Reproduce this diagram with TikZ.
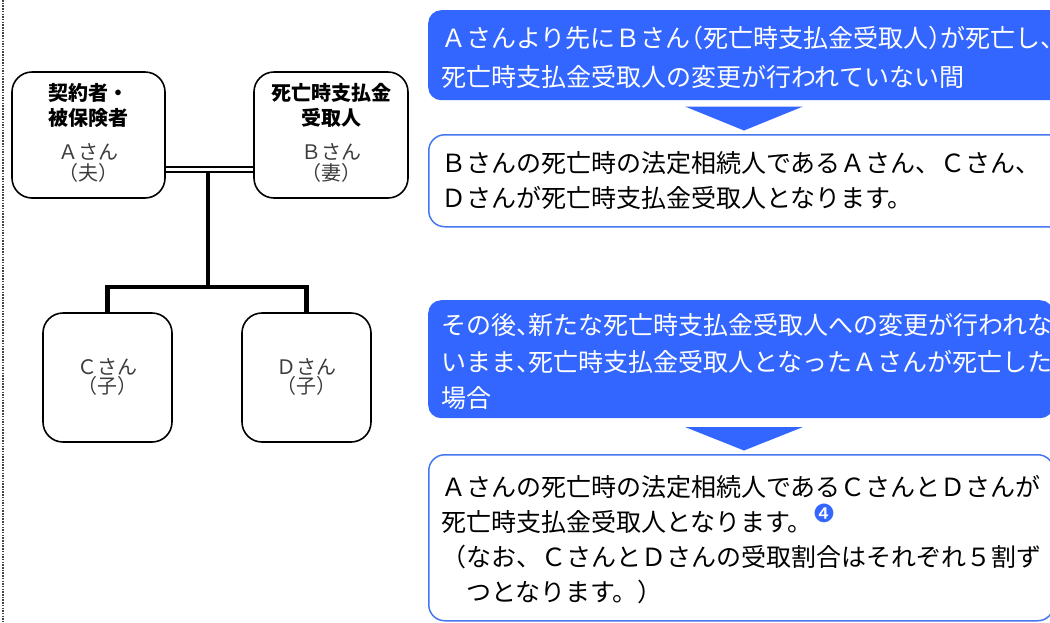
\documentclass[tikz,border=0pt]{standalone}
\usepackage{fontspec}
\newfontfamily\jp{Noto Sans CJK JP}
\newfontfamily\symf{DejaVu Sans}
\definecolor{qblue}{HTML}{3366FF}
\definecolor{lblue}{HTML}{4577F2}
\definecolor{ink}{HTML}{3C3C3C}
\definecolor{dotc}{HTML}{444444}
\newcommand{\nc}{\makebox[0.5em][l]{、}}
\newcommand{\lp}{\makebox[0.5em][r]{（}}
\newcommand{\rp}{\makebox[0.5em][l]{）}}
\begin{document}
\begin{tikzpicture}[x=1pt,y=-1pt,
  pbox/.style={draw, line width=1.6pt, rounded corners=20pt, minimum width=153pt, minimum height=126pt, inner sep=0pt},
  cbox/.style={pbox, minimum width=129pt, minimum height=129pt},
  ptext/.style={anchor=base, inner sep=0pt, text width=150pt, align=center, font=\jp\fontsize{20}{25}\selectfont},
  qbox/.style={fill=qblue, rounded corners=13pt, anchor=north west, inner sep=0pt},
  abox/.style={draw=lblue, line width=1.5pt, fill=white, rounded corners=16pt, anchor=north west, inner sep=0pt},
  qtext/.style={anchor=base west, inner sep=0pt, text width=640pt, align=left, text=white},
  atext/.style={anchor=base west, inner sep=0pt, text width=640pt, align=left, text=black},
  trunk/.style={line width=4.5pt},
  wed/.style={line width=1.5pt},
  tri/.style={fill=qblue},
  margin/.style={draw=dotc, line width=2.2pt, dash pattern=on 1.5pt off 1.2pt}
]
\useasboundingbox (0,0) rectangle (1050,622);
\draw[margin] (3,0) -- (3,622);

% family boxes
\node[pbox] (A) at (88.5,135) {};
\node[pbox, minimum width=154pt] (B) at (331,135) {};
\node[cbox] (C) at (107.5,377.5) {};
\node[cbox] (D) at (306.5,377.5) {};

\node[ptext] (At) at (A |- 0,100.6) {\textbf{契約者・}\\\textbf{被保険者}\\[9pt]\textcolor{ink}{Ａさん}\\[-4pt]\textcolor{ink}{（夫）}};
\node[ptext] (Bt) at (B |- 0,100.6) {\textbf{死亡時支払金}\\\textbf{受取人}\\[9pt]\textcolor{ink}{Ｂさん}\\[-4pt]\textcolor{ink}{（妻）}};
\node[ptext] (Ct) at (C |- 0,374.6) {\textcolor{ink}{Ｃさん}\\[-6pt]\textcolor{ink}{（子）}};
\node[ptext] (Dt) at (D |- 0,374.6) {\textcolor{ink}{Ｄさん}\\[-6pt]\textcolor{ink}{（子）}};

% connectors
\draw[wed] ([yshift=-32pt]A.east) -- ([yshift=-32pt]B.west);
\draw[wed] ([yshift=-37pt]A.east) -- ([yshift=-37pt]B.west);
\coordinate (M) at (208,171.5);
\coordinate (F) at (208,287);
\draw[trunk] (M) -- (F);
\draw[trunk] (C.north) |- (F) -| (D.north);

% right column
\node[qbox, minimum width=640pt, minimum height=90pt] (Q1) at (428,10) {};
\node[abox, minimum width=640pt, minimum height=92pt] (W1) at (428,134) {};
\node[qbox, minimum width=625pt, minimum height=118pt] (Q2) at (428,300) {};
\node[abox, minimum width=625pt, minimum height=166pt] (W2) at (428,454) {};

\fill[tri] (685,106.5) -- (803,106.5) -- (744,130.5) -- cycle;
\fill[tri] (685,427) -- (803,427) -- (744,450.5) -- cycle;

\node[qtext, font=\jp\fontsize{25}{39}\selectfont] (Q1t) at (441,47.5) {Ａさんより先にＢさん\lp 死亡時支払金受取人\rp が死亡し、\\死亡時支払金受取人の変更が行われていない間};
\node[atext, font=\jp\fontsize{25}{35}\selectfont] (W1t) at (441,172.5) {Ｂさんの死亡時の法定相続人であるＡさん、Ｃさん、\\Ｄさんが死亡時支払金受取人となります。};
\node[qtext, font=\jp\fontsize{25}{36.5}\selectfont] (Q2t) at (441,334.5) {その後\nc 新たな死亡時支払金受取人への変更が行われな\\いまま\nc 死亡時支払金受取人となったＡさんが死亡した\\場合};
\node[atext, font=\jp\fontsize{25}{35}\selectfont] (W2t) at (441,496.5) {Ａさんの死亡時の法定相続人であるＣさんとＤさんが\\死亡時支払金受取人となります。\raisebox{9pt}{\symf\fontsize{25}{25}\selectfont\textcolor{qblue}{❹}}\\（なお、ＣさんとＤさんの受取割合はそれぞれ５割ず\\\hspace*{1em}つとなります。）};
\end{tikzpicture}
\end{document}
